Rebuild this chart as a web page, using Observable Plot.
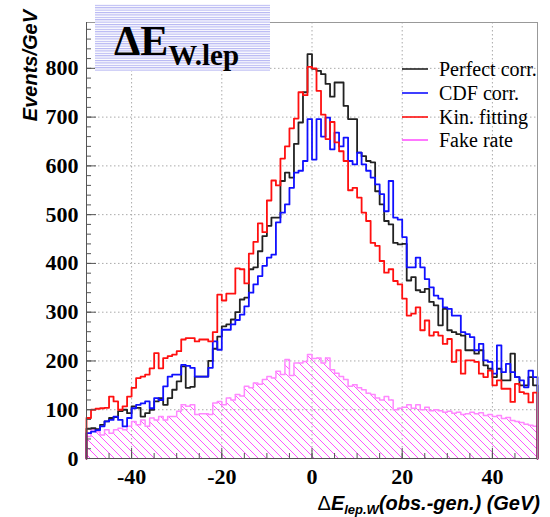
<!DOCTYPE html>
<html><head><meta charset="utf-8">
<script src="https://cdn.jsdelivr.net/npm/d3@7"></script>
<script src="https://cdn.jsdelivr.net/npm/@observablehq/plot@0.6"></script>
<style>
html,body{margin:0;padding:0;background:#fff;}
#chart{width:550px;height:517px;}
</style></head><body><div id="chart"></div>
<script>
// bin lower edges (1 GeV bins from -50 to 50)
const binLow = d3.range(-50, 50);
const xTicks = [-40, -20, 0, 20, 40];
const xMinor = d3.range(-45, 50, 5);
const yTicks = [0, 100, 200, 300, 400, 500, 600, 700, 800];
const yMinor = d3.range(0, 890, 20);
const seriesNames = ["Perfect corr.", "CDF corr.", "Kin. fitting", "Fake rate"];
const seriesColors = ["#222222", "#1010ff", "#ff1010", "#ff55ff"];

const perfect = [
  61, 62, 60, 69, 76, 83, 85, 97, 100, 93,
  107, 104, 86, 93, 100, 117, 124, 110, 124, 141,
  158, 189, 145, 147, 168, 168, 168, 200, 225, 250,
  271, 275, 285, 300, 326, 330, 388, 392, 425, 456,
  477, 494, 494, 569, 586, 576, 645, 689, 751, 829,
  799, 795, 788, 768, 742, 771, 771, 723, 696, 696,
  627, 620, 610, 607, 548, 521, 487, 480, 442, 439,
  440, 365, 372, 345, 341, 348, 321, 314, 273, 307,
  263, 259, 255, 252, 222, 222, 215, 222, 191, 184,
  167, 184, 160, 160, 215, 167, 150, 150, 167, 150
];
const cdf = [
  52, 55, 58, 66, 76, 79, 86, 79, 66, 83,
  103, 110, 113, 117, 103, 124, 120, 148, 168, 172,
  172, 192, 190, 186, 168, 168, 168, 186, 240, 223,
  264, 264, 275, 284, 295, 312, 340, 357, 374, 395,
  412, 418, 484, 504, 521, 555, 586, 590, 610, 696,
  613, 696, 660, 699, 634, 668, 640, 658, 610, 603,
  627, 603, 590, 576, 562, 542, 507, 569, 494, 490,
  454, 392, 392, 412, 392, 368, 351, 334, 328, 310,
  307, 293, 293, 259, 255, 249, 222, 235, 201, 198,
  174, 232, 177, 194, 177, 167, 160, 146, 180, 167
];
const kinfit = [
  83, 100, 102, 103, 104, 127, 117, 100, 107, 127,
  145, 165, 168, 172, 185, 216, 185, 206, 210, 213,
  220, 244, 247, 247, 240, 244, 244, 240, 259, 336,
  324, 338, 338, 390, 388, 359, 420, 444, 482, 464,
  529, 570, 560, 615, 640, 677, 697, 751, 745, 803,
  800, 754, 705, 655, 690, 648, 630, 610, 550, 555,
  535, 504, 487, 442, 436, 405, 381, 388, 364, 357,
  328, 293, 297, 310, 263, 283, 252, 259, 252, 235,
  245, 198, 222, 174, 201, 201, 198, 174, 167, 180,
  150, 160, 143, 143, 116, 153, 136, 133, 115, 135
];
const fake = [
  45, 59, 55, 48, 59, 52, 59, 62, 59, 66,
  76, 69, 79, 66, 83, 79, 86, 79, 86, 86,
  97, 110, 107, 110, 90, 92, 92, 90, 114, 117,
  110, 124, 120, 131, 128, 148, 145, 155, 152, 162,
  168, 165, 179, 172, 203, 170, 196, 196, 199, 213,
  205, 206, 196, 206, 182, 175, 168, 162, 148, 151,
  145, 141, 134, 131, 124, 120, 127, 120, 100, 103,
  105, 110, 103, 110, 100, 105, 98, 100, 98, 95,
  97, 93, 95, 90, 92, 95, 92, 94, 88, 90,
  86, 88, 82, 84, 78, 76, 74, 70, 68, 66
];

// histogram outline points (closed to zero at both ends, like ROOT)
function steps(vals) {
  const pts = [{x: binLow[0], y: 0}];
  vals.forEach((v, i) => {
    pts.push({x: binLow[i], y: v});
    pts.push({x: binLow[i] + 1, y: v});
  });
  pts.push({x: binLow[binLow.length - 1] + 1, y: 0});
  return pts;
}
const sPerfect = steps(perfect), sCdf = steps(cdf), sKin = steps(kinfit), sFake = steps(fake);

const tickFont = {fontSize: 22, fontWeight: "bold", fontFamily: "Liberation Serif", fill: "#000"};
const fmt = d => String(d);

const plot = Plot.plot({
  width: 550, height: 517,
  marginLeft: 86, marginRight: 13, marginTop: 22, marginBottom: 59,
  x: {domain: [-50, 50], label: null},
  y: {domain: [0, 894], label: null},
  style: {background: "white", overflow: "visible"},
  marks: [
    Plot.gridX(xTicks, {stroke: "#aaa", strokeOpacity: 1, strokeDasharray: "1.5,2.5", strokeWidth: 1}),
    Plot.gridY(yTicks.filter(d => d > 0), {stroke: "#aaa", strokeOpacity: 1, strokeDasharray: "1.5,2.5", strokeWidth: 1}),
    Plot.areaY(sFake, {x: "x", y1: 0, y2: "y", fill: "url(#hatchFake)", curve: "linear"}),
    Plot.line(sFake, {x: "x", y: "y", stroke: "#ff88ff", strokeWidth: 1.5}),
    Plot.line(sPerfect, {x: "x", y: "y", stroke: seriesColors[0], strokeWidth: 1.8}),
    Plot.line(sCdf, {x: "x", y: "y", stroke: seriesColors[1], strokeWidth: 1.8}),
    Plot.line(sKin, {x: "x", y: "y", stroke: seriesColors[2], strokeWidth: 1.8}),
    Plot.frame({stroke: "#999"}),
    Plot.ruleX([-50], {stroke: "#555"}),
    Plot.ruleY([0], {stroke: "#555"}),
    Plot.axisY(yMinor, {anchor: "left", tickSize: -5, text: null, label: null, stroke: "#555"}),
    Plot.axisY(yTicks, {anchor: "left", tickSize: -10, text: null, label: null, stroke: "#555"}),
    Plot.axisY(yTicks, {anchor: "left", tickSize: 0, tickPadding: 8, label: null, tickFormat: fmt, ...tickFont}),
    Plot.axisX(xMinor, {anchor: "bottom", tickSize: -5, text: null, label: null, stroke: "#555"}),
    Plot.axisX(xTicks, {anchor: "bottom", tickSize: -10, text: null, label: null, stroke: "#555"}),
    Plot.axisX(xTicks, {anchor: "bottom", tickSize: 0, tickPadding: 10, label: null, tickFormat: fmt, ...tickFont})
  ]
});
document.getElementById("chart").appendChild(plot);

const svg = d3.select(plot);
const defs = svg.insert("defs", ":first-child");
const hp = defs.append("pattern").attr("id", "hatchFake").attr("patternUnits", "userSpaceOnUse")
  .attr("width", 8).attr("height", 8);
hp.append("path").attr("d", "M0,0 L8,8 M-2,6 L2,10 M6,-2 L10,2")
  .attr("stroke", "#ff55ff").attr("stroke-width", 1).attr("fill", "none");
const tp = defs.append("pattern").attr("id", "hlines").attr("patternUnits", "userSpaceOnUse")
  .attr("width", 10).attr("height", 2.4);
tp.append("rect").attr("x", 0).attr("y", 0).attr("width", 10).attr("height", 1.1).attr("fill", "#b4b4f2");

// title box
const tg = svg.append("g");
tg.append("rect").attr("x", 95).attr("y", 4).attr("width", 175).attr("height", 67).attr("fill", "white");
tg.append("rect").attr("x", 95).attr("y", 4).attr("width", 175).attr("height", 67).attr("fill", "url(#hlines)");
const tt = tg.append("text").attr("x", 114).attr("y", 55).attr("text-anchor", "start")
  .attr("font-family", "Liberation Serif").attr("font-weight", "bold").attr("fill", "#000");
tt.append("tspan").attr("font-size", 42).text("ΔE");
tt.append("tspan").attr("font-size", 29).attr("dy", 10).text("W.lep");

// legend
const lg = svg.append("g");
const legY = [69, 93, 117, 140];
seriesNames.forEach((n, i) => {
  lg.append("line").attr("x1", 402).attr("x2", 428).attr("y1", legY[i]).attr("y2", legY[i])
    .attr("stroke", seriesColors[i]).attr("stroke-width", 1.6);
  lg.append("text").attr("x", 439).attr("y", legY[i] + 7).attr("text-anchor", "start")
    .attr("font-family", "Liberation Serif").attr("font-size", 20).attr("fill", "#000").text(n);
});

// axis titles
svg.append("text").attr("transform", "translate(37,10) rotate(-90)").attr("text-anchor", "end")
  .attr("font-family", "Liberation Sans").attr("font-size", 20).attr("font-weight", "bold")
  .attr("font-style", "italic").attr("fill", "#000").text("Events/GeV");
const xl = svg.append("text").attr("x", 540).attr("y", 510).attr("text-anchor", "end")
  .attr("font-family", "Liberation Sans").attr("font-size", 20).attr("font-weight", "bold")
  .attr("font-style", "italic").attr("fill", "#000");
xl.append("tspan").attr("font-weight", "normal").attr("font-style", "normal").text("Δ");
xl.append("tspan").text("E");
xl.append("tspan").attr("font-size", 13).attr("dy", 4).text("lep.W");
xl.append("tspan").attr("dy", -4).text("(obs.-gen.) (GeV)");
</script>
</body></html>
